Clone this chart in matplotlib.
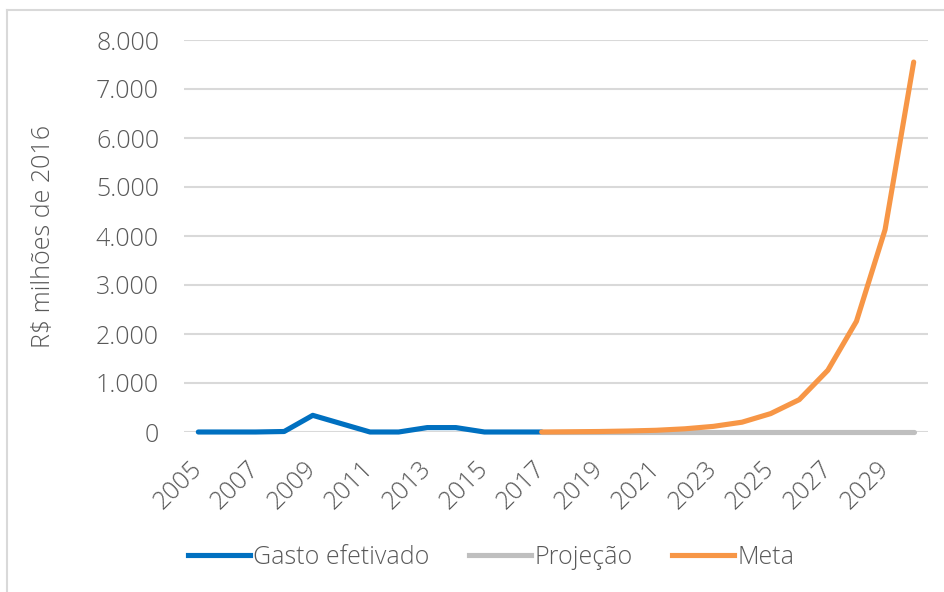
import matplotlib
matplotlib.use("Agg")
import matplotlib.pyplot as plt
from matplotlib.lines import Line2D

years = list(range(2005, 2031))
gasto_years = list(range(2005, 2018))
gasto = [0, 0, 0, 10, 340, 170, 0, 0, 90, 90, 0, 0, 0]
proj_years = list(range(2017, 2031))
projecao = [5, 5, 5, 5, 5, 5, 5, 5, 5, 5, 5, 5, 5, 5]
meta_years = list(range(2017, 2031))
meta = [0, 5, 10, 20, 35, 65, 115, 200, 375, 660, 1260, 2260, 4130, 7550]
yticks = [0, 1000, 2000, 3000, 4000, 5000, 6000, 7000, 8000]
ytick_labels = ["0", "1.000", "2.000", "3.000", "4.000", "5.000", "6.000", "7.000", "8.000"]
xtick_years = list(range(2005, 2030, 2))

TXT = "#595959"
FS = 18
plt.rcParams['font.family'] = ['Open Sans', 'DejaVu Sans']
plt.rcParams['font.weight'] = 'light'

fig = plt.figure(figsize=(9.45, 5.92), dpi=100)
ax = fig.add_axes([184/945, 1-432/592, (928-184)/945, (432-40)/592])

idx = {y: i for i, y in enumerate(years)}
ax.plot([idx[y] for y in gasto_years], gasto, color="#0070C0", lw=3.7, solid_capstyle='round', clip_on=False, zorder=3)
ax.plot([idx[y] for y in proj_years], projecao, color="#BFBFBF", lw=3.7, solid_capstyle='round', clip_on=False, zorder=3)
ax.plot([idx[y] for y in meta_years], meta, color="#F79646", lw=3.7, solid_capstyle='round', clip_on=False, zorder=4)

ax.set_xlim(-0.5, len(years) - 0.5)
ax.set_ylim(0, 8000)
ax.set_yticks(yticks)
ax.set_yticklabels(ytick_labels, fontsize=FS, color=TXT)
ax.set_xticks([idx[y] for y in xtick_years])
ax.set_xticklabels([str(y) for y in xtick_years], fontsize=FS, color=TXT, rotation=45,
                   ha='right', va='center', rotation_mode='anchor')
ax.tick_params(axis='both', length=0)
ax.tick_params(axis='y', pad=18)
ax.tick_params(axis='x', pad=24)
for s in ax.spines.values():
    s.set_visible(False)
ax.grid(axis='y', color='#D9D9D9', lw=1.5)
ax.set_axisbelow(True)

fig.text(43.5/945, 1-236/592, "R$ milhões de 2016", fontsize=FS, color=TXT,
         rotation=90, ha='center', va='center')

handles = [Line2D([], [], color="#0070C0", lw=3.7),
           Line2D([], [], color="#BFBFBF", lw=3.7),
           Line2D([], [], color="#F79646", lw=3.7)]
leg = fig.legend(handles, ["Gasto efetivado", "Projeção", "Meta"], loc='center',
                 bbox_to_anchor=(491/945, 1-557/592), ncol=3, frameon=False,
                 fontsize=FS, handlelength=2.48, handletextpad=0.12, columnspacing=1.6)
for t in leg.get_texts():
    t.set_color(TXT)

# outer frame (left and top edges visible)
fig.add_artist(Line2D([7/945, 7/945], [0, 1-10/592], color='#D9D9D9', lw=1.5, transform=fig.transFigure))
fig.add_artist(Line2D([7/945, 1], [1-10/592, 1-10/592], color='#D9D9D9', lw=1.5, transform=fig.transFigure))

fig.savefig("out.png", dpi=100)
